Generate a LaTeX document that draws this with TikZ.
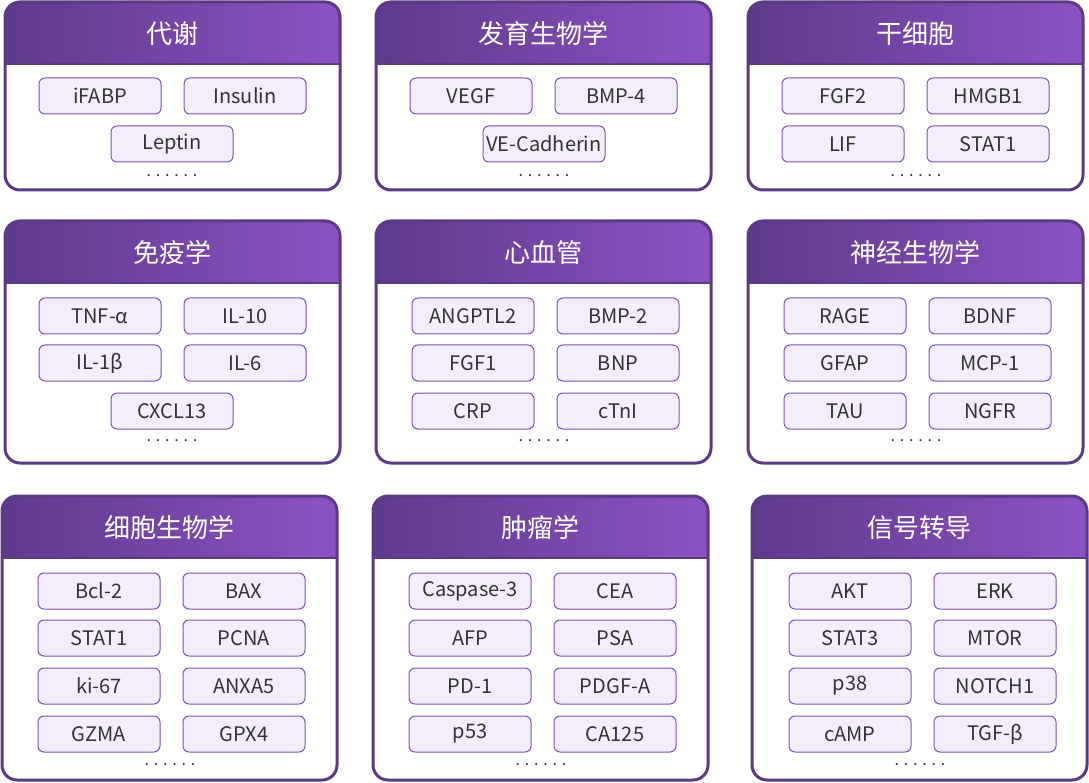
\documentclass[tikz,border=0pt]{standalone}
\usepackage{fontspec}
\setmainfont{Noto Sans CJK SC}
\usetikzlibrary{positioning}
\definecolor{hdleft}{HTML}{5E3A8C}
\definecolor{hdright}{HTML}{8C52C4}
\definecolor{frame}{HTML}{5A3A82}
\definecolor{chipfill}{HTML}{F4EEFC}
\definecolor{chipline}{HTML}{7E50B6}
\def\panelw{335}
% panel: name, left, top, height, title
\newcommand{\panelbox}[5]{%
  \begin{scope}
    \clip[rounded corners=15] (#2,#3) rectangle ++(\panelw,#4);
    \shade[left color=hdleft,right color=hdright] (#2,#3) rectangle ++(\panelw,62);
  \end{scope}
  \draw[frame,line width=3,rounded corners=15] (#2,#3) rectangle ++(\panelw,#4);
  \draw[frame,line width=2] (#2,#3+62) -- ++(\panelw,0);
  \node[title] (#1) at (#2+\panelw/2,#3+32) {#5};
}
\begin{document}
\begin{tikzpicture}[x=1pt,y=-1pt,
  title/.style={text=white,font=\fontsize{26}{30}\selectfont},
  chip/.style={draw=chipline,fill=chipfill,rounded corners=6,line width=1,
    minimum width=122,minimum height=36,inner sep=0pt,text=black!80,
    font=\fontsize{20}{24}\selectfont},
  more/.style={text=black!80,font=\fontsize{16}{18}\selectfont}]
\useasboundingbox (0,0) rectangle (1089,783);

% Row 1
\panelbox{met}{5}{2}{188}{代谢}
\panelbox{dev}{376}{2}{188}{发育生物学}
\panelbox{stem}{748}{2}{188}{干细胞}
\foreach \name/\x/\y/\txt in {a/100/96/iFABP,b/245/96/Insulin,c/172/144/Leptin}
  \node[chip] (met-\name) at (\x,\y) {\txt};
\foreach \name/\x/\y/\txt in {a/471/96/VEGF,b/616/96/BMP-4,c/544/144/VE-Cadherin}
  \node[chip] (dev-\name) at (\x,\y) {\txt};
\foreach \name/\x/\y/\txt in {a/843/96/FGF2,b/988/96/HMGB1,c/843/144/LIF,d/988/144/STAT1}
  \node[chip] (stem-\name) at (\x,\y) {\txt};
\node[more] at (172,176) {. . . . . .};
\node[more] at (544,176) {. . . . . .};
\node[more] at (916,176) {. . . . . .};

% Row 2
\panelbox{imm}{5}{221}{242}{免疫学}
\panelbox{car}{376}{221}{242}{心血管}
\panelbox{neu}{748}{221}{242}{神经生物学}
\foreach \name/\x/\y/\txt in {a/100/316/TNF-α,b/245/316/IL-10,c/100/363/IL-1β,d/245/363/IL-6,e/172/411/CXCL13}
  \node[chip] (imm-\name) at (\x,\y) {\txt};
\foreach \name/\x/\y/\txt in {a/473/316/ANGPTL2,b/618/316/BMP-2,c/473/363/FGF1,d/618/363/BNP,e/473/411/CRP,f/618/411/cTnI}
  \node[chip] (car-\name) at (\x,\y) {\txt};
\foreach \name/\x/\y/\txt in {a/845/316/RAGE,b/990/316/BDNF,c/845/363/GFAP,d/990/363/MCP-1,e/845/411/TAU,f/990/411/NGFR}
  \node[chip] (neu-\name) at (\x,\y) {\txt};
\node[more] at (172,441) {. . . . . .};
\node[more] at (544,441) {. . . . . .};
\node[more] at (916,441) {. . . . . .};

% Row 3
\panelbox{cell}{2}{496}{284}{细胞生物学}
\panelbox{onc}{373}{496}{284}{肿瘤学}
\panelbox{sig}{752}{496}{284}{信号转导}
\foreach \name/\x/\y/\txt in {a/99/591/Bcl-2,b/244/591/BAX,c/99/638/STAT1,d/244/638/PCNA,e/99/686/ki-67,f/244/686/ANXA5,g/99/734/GZMA,h/244/734/GPX4}
  \node[chip] (cell-\name) at (\x,\y) {\txt};
\foreach \name/\x/\y/\txt in {a/470/591/Caspase-3,b/615/591/CEA,c/470/638/AFP,d/615/638/PSA,e/470/686/PD-1,f/615/686/PDGF-A,g/470/734/p53,h/615/734/CA125}
  \node[chip] (onc-\name) at (\x,\y) {\txt};
\foreach \name/\x/\y/\txt in {a/850/591/AKT,b/995/591/ERK,c/850/638/STAT3,d/995/638/MTOR,e/850/686/p38,f/995/686/NOTCH1,g/850/734/cAMP,h/995/734/TGF-β}
  \node[chip] (sig-\name) at (\x,\y) {\txt};
\node[more] at (170,765) {. . . . . .};
\node[more] at (541,765) {. . . . . .};
\node[more] at (920,765) {. . . . . .};
\end{tikzpicture}
\end{document}
